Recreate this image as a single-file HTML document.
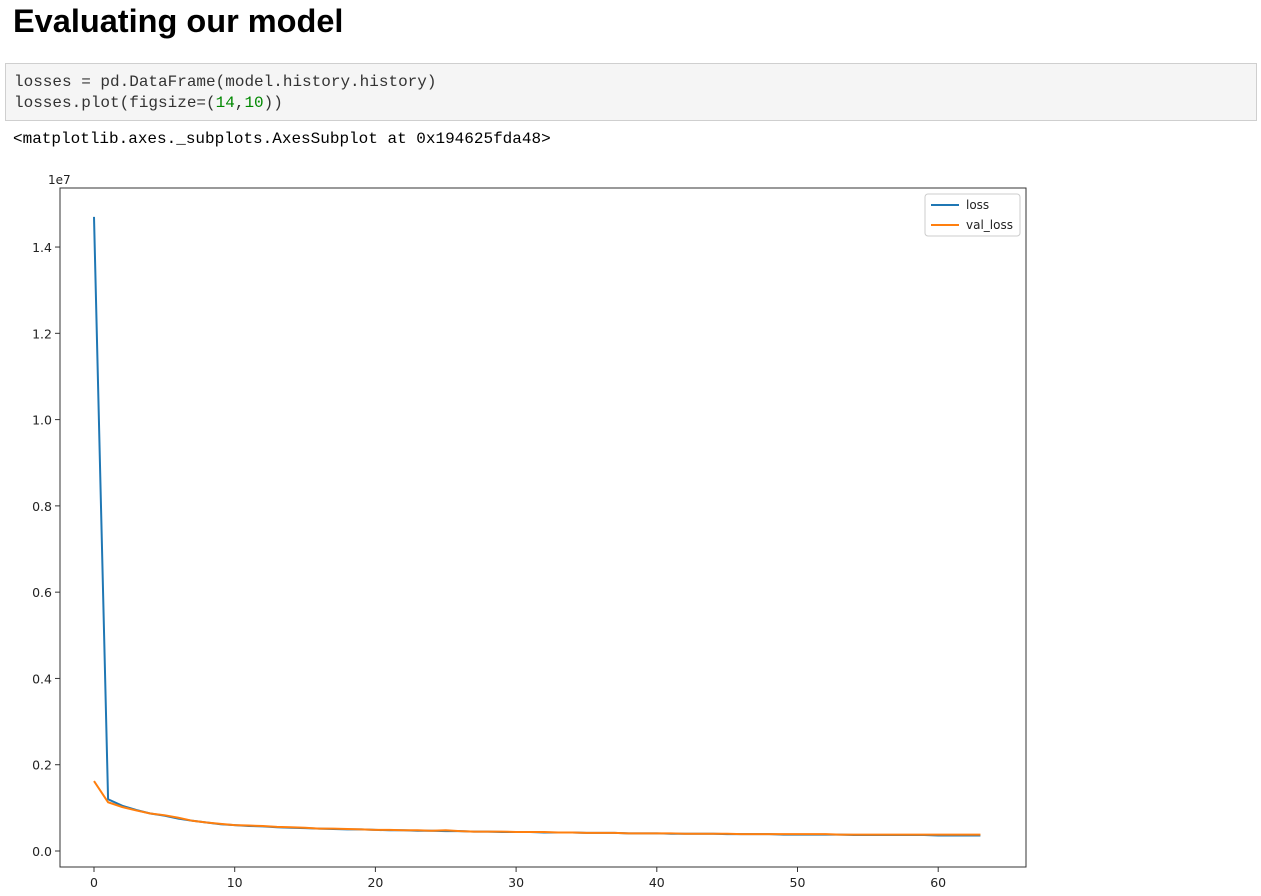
<!DOCTYPE html>
<html><head><meta charset="utf-8"><style>
body{margin:0;background:#fff;width:1261px;height:896px;overflow:hidden;font-family:"Liberation Sans",sans-serif;}
h1{position:absolute;left:13px;top:3px;margin:0;font-size:32.5px;font-weight:bold;color:#000;}
.code{position:absolute;left:5px;top:63px;width:1252px;height:58px;background:#f5f5f5;border:1px solid #cfcfcf;box-sizing:border-box;font-family:"Liberation Mono",monospace;font-size:16px;line-height:21px;padding:8px 8px;color:#333;}
.out{position:absolute;left:13px;top:130px;font-family:"Liberation Mono",monospace;font-size:16px;color:#000;}
svg{position:absolute;left:0;top:0;}
</style></head><body>
<h1>Evaluating our model</h1>
<div class="code">losses = pd.DataFrame(model.history.history)<br>losses.plot(figsize=(<span style="color:#080">14</span>,<span style="color:#080">10</span>))</div>
<div class="out">&lt;matplotlib.axes._subplots.AxesSubplot at 0x194625fda48&gt;</div>
<svg id="chart" width="1261" height="896"></svg>
<script>
const epochs = Array.from({length:64},(_, i)=>i);
const lossVals = [14.7,1.2,1.05,0.95,0.87,0.82,0.75,0.70,0.66,0.62,0.60,0.58,0.57,0.55,0.54,0.53,0.52,0.51,0.50,0.50,0.49,0.48,0.48,0.47,0.47,0.46,0.46,0.45,0.45,0.44,0.44,0.44,0.43,0.43,0.43,0.42,0.42,0.42,0.41,0.41,0.41,0.40,0.40,0.40,0.40,0.39,0.39,0.39,0.39,0.38,0.38,0.38,0.38,0.38,0.37,0.37,0.37,0.37,0.37,0.37,0.36,0.36,0.36,0.36];
const valLossVals = [1.62,1.13,1.02,0.94,0.87,0.83,0.77,0.70,0.66,0.63,0.60,0.59,0.58,0.56,0.55,0.54,0.52,0.52,0.51,0.50,0.49,0.49,0.48,0.48,0.47,0.48,0.46,0.45,0.45,0.45,0.44,0.44,0.44,0.43,0.43,0.42,0.42,0.42,0.41,0.41,0.41,0.41,0.40,0.40,0.40,0.40,0.39,0.39,0.39,0.39,0.39,0.39,0.39,0.38,0.38,0.38,0.38,0.38,0.38,0.38,0.38,0.38,0.38,0.38];
const xTicks = [0,10,20,30,40,50,60];
const yTicks = [0.0,0.2,0.4,0.6,0.8,1.0,1.2,1.4];
const svg = document.getElementById('chart');
const NS='http://www.w3.org/2000/svg';
const L=60,R=1026,T=188,B=867;
const xs = v => 94 + v*14.07;
const ys = v => 851 - v*431.4/10;
function mk(tag,attrs){const e=document.createElementNS(NS,tag);for(const k in attrs)e.setAttribute(k,attrs[k]);svg.appendChild(e);return e;}
const frame=mk('rect',{x:L,y:T,width:R-L,height:B-T,fill:'none',stroke:'#333','stroke-width':1});


xTicks.forEach(t=>{
  const ln=mk('line',{x1:xs(t),x2:xs(t),y1:B,y2:B+5,stroke:'#333'});
  
  
  const tx=mk('text',{x:xs(t),y:B+20,'text-anchor':'middle','font-size':12.5,fill:'#222','font-family':'DejaVu Sans, sans-serif'});
  tx.textContent=t;
  
  
});
yTicks.forEach(t=>{
  const y=ys(t*10);
  const ln=mk('line',{x1:L-5,x2:L,y1:y,y2:y,stroke:'#333'});
  
  
  const tx=mk('text',{x:L-8,y:y+5,'text-anchor':'end','font-size':12.5,fill:'#222','font-family':'DejaVu Sans, sans-serif'});
  tx.textContent=t.toFixed(1);
  
  
});
const off=mk('text',{x:48,y:184,'font-size':12,fill:'#222','font-family':'DejaVu Sans, sans-serif'});
off.textContent='1e7';


function series(vals,color,name){
  const p=mk('polyline',{points:vals.map((v,i)=>xs(epochs[i])+','+ys(v)).join(' '),fill:'none',stroke:color,'stroke-width':2});
  
  
}
series(lossVals,'#1f77b4','loss-line');
series(valLossVals,'#ff7f0e','val-loss-line');
const lg=mk('rect',{x:925,y:194,width:95,height:42,fill:'#fff',stroke:'#ccc',rx:3});


[['loss','#1f77b4',205],['val_loss','#ff7f0e',225]].forEach(([n,c,y])=>{
  const l=mk('line',{x1:931,x2:959,y1:y,y2:y,stroke:c,'stroke-width':2});
  
  
  const t=mk('text',{x:966,y:y+4,'font-size':12,fill:'#222','font-family':'DejaVu Sans, sans-serif'});
  t.textContent=n;
  
  
});
</script>
</body></html>
